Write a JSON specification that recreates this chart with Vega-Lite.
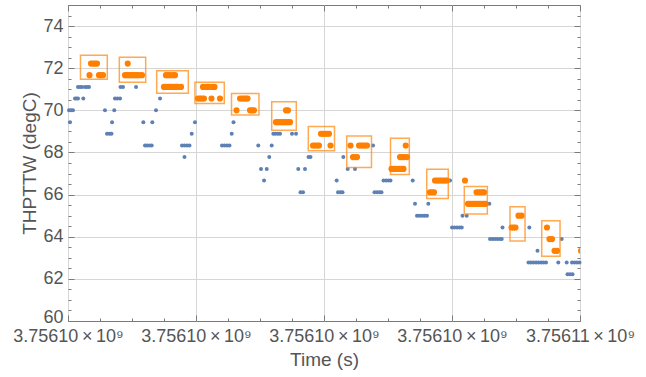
{
  "$schema": "https://vega.github.io/schema/vega-lite/v6.json",
  "width": 512,
  "height": 316,
  "autosize": "none",
  "padding": {"left": 68, "top": 5, "right": 66, "bottom": 56},
  "background": "white",
  "config": {
    "view": {"stroke": "#7a7a7a", "strokeWidth": 1},
    "font": "Liberation Sans"
  },
  "datasets": {
    "blue": [
      {"t":3756098016,"v":70.00},{"t":3756098047,"v":70.00},{"t":3756098078,"v":70.00},{"t":3756098031,"v":69.44},
      {"t":3756098109,"v":70.56},{"t":3756098133,"v":70.56},{"t":3756098156,"v":70.56},{"t":3756098239,"v":70.56},
      {"t":3756098156,"v":71.11},{"t":3756098188,"v":71.11},{"t":3756098219,"v":71.11},{"t":3756098266,"v":71.11},{"t":3756098297,"v":71.11},{"t":3756098328,"v":71.11},
      {"t":3756098578,"v":70.00},{"t":3756098609,"v":68.89},{"t":3756098648,"v":68.89},{"t":3756098680,"v":68.89},{"t":3756098688,"v":69.44},
      {"t":3756098723,"v":70.00},{"t":3756098734,"v":70.56},{"t":3756098773,"v":70.56},{"t":3756098813,"v":70.56},{"t":3756098820,"v":71.11},{"t":3756098859,"v":71.11},{"t":3756099063,"v":71.11},
      {"t":3756099177,"v":69.44},{"t":3756099203,"v":68.33},{"t":3756099234,"v":68.33},{"t":3756099273,"v":68.33},{"t":3756099308,"v":68.33},{"t":3756099317,"v":69.44},{"t":3756099375,"v":70.00},{"t":3756099438,"v":70.56},
      {"t":3756099781,"v":68.33},{"t":3756099820,"v":68.33},{"t":3756099859,"v":68.33},{"t":3756099898,"v":68.33},{"t":3756099820,"v":67.78},{"t":3756099933,"v":68.89},{"t":3756099984,"v":69.44},
      {"t":3756100406,"v":68.33},{"t":3756100445,"v":68.33},{"t":3756100484,"v":68.33},{"t":3756100523,"v":68.33},{"t":3756100558,"v":68.89},{"t":3756100586,"v":69.44},
      {"t":3756100973,"v":68.33},{"t":3756101016,"v":67.22},{"t":3756101105,"v":67.22},{"t":3756101063,"v":66.67},{"t":3756101145,"v":67.78},{"t":3756101183,"v":68.33},
      {"t":3756101208,"v":68.89},{"t":3756101242,"v":68.89},{"t":3756101281,"v":68.89},{"t":3756101313,"v":68.89},{"t":3756101500,"v":68.89},{"t":3756101563,"v":68.89},
      {"t":3756101598,"v":67.22},{"t":3756101703,"v":67.22},{"t":3756101633,"v":66.11},{"t":3756101672,"v":66.11},{"t":3756101758,"v":67.78},{"t":3756101789,"v":67.78},
      {"t":3756102198,"v":66.67},{"t":3756102219,"v":66.11},{"t":3756102258,"v":66.11},{"t":3756102289,"v":66.11},{"t":3756102302,"v":67.78},{"t":3756102370,"v":67.22},{"t":3756102484,"v":67.22},
      {"t":3756102766,"v":68.33},{"t":3756102789,"v":66.11},{"t":3756102828,"v":66.11},{"t":3756102867,"v":66.11},{"t":3756102898,"v":66.11},
      {"t":3756102930,"v":66.67},{"t":3756102969,"v":66.67},{"t":3756103008,"v":66.67},{"t":3756103039,"v":66.67},
      {"t":3756103386,"v":66.67},{"t":3756103422,"v":65.56},{"t":3756103630,"v":65.56},{"t":3756103453,"v":65.00},{"t":3756103492,"v":65.00},{"t":3756103531,"v":65.00},{"t":3756103570,"v":65.00},{"t":3756103609,"v":65.00},
      {"t":3756103969,"v":66.67},{"t":3756104000,"v":64.44},{"t":3756104039,"v":64.44},{"t":3756104078,"v":64.44},{"t":3756104117,"v":64.44},{"t":3756104152,"v":64.44},{"t":3756104164,"v":65.00},{"t":3756104230,"v":65.00},
      {"t":3756104583,"v":65.56},{"t":3756104594,"v":63.89},{"t":3756104633,"v":63.89},{"t":3756104672,"v":63.89},{"t":3756104711,"v":63.89},{"t":3756104750,"v":63.89},{"t":3756104777,"v":63.89},{"t":3756104789,"v":64.44},
      {"t":3756105208,"v":64.44},{"t":3756105336,"v":63.33},{"t":3756105195,"v":62.78},{"t":3756105234,"v":62.78},{"t":3756105273,"v":62.78},{"t":3756105313,"v":62.78},{"t":3756105352,"v":62.78},{"t":3756105391,"v":62.78},{"t":3756105430,"v":62.78},{"t":3756105469,"v":62.78},
      {"t":3756105714,"v":63.89},{"t":3756105661,"v":62.78},{"t":3756105792,"v":62.78},{"t":3756105875,"v":62.78},{"t":3756105914,"v":62.78},{"t":3756105953,"v":62.78},{"t":3756105992,"v":62.78},
      {"t":3756105805,"v":62.22},{"t":3756105844,"v":62.22},{"t":3756105883,"v":62.22}
    ],
    "orange": [
      {"t":3756098359,"v":72.22},{"t":3756098391,"v":72.22},{"t":3756098422,"v":72.22},{"t":3756098453,"v":72.22},
      {"t":3756098336,"v":71.67},{"t":3756098484,"v":71.67},{"t":3756098516,"v":71.67},{"t":3756098547,"v":71.67},
      {"t":3756098933,"v":72.22},
      {"t":3756098891,"v":71.67},{"t":3756098922,"v":71.67},{"t":3756098953,"v":71.67},{"t":3756098984,"v":71.67},{"t":3756099016,"v":71.67},{"t":3756099047,"v":71.67},{"t":3756099078,"v":71.67},{"t":3756099109,"v":71.67},{"t":3756099156,"v":71.67},
      {"t":3756099531,"v":71.67},{"t":3756099563,"v":71.67},{"t":3756099594,"v":71.67},{"t":3756099641,"v":71.67},{"t":3756099672,"v":71.67},
      {"t":3756099500,"v":71.11},{"t":3756099531,"v":71.11},{"t":3756099563,"v":71.11},{"t":3756099594,"v":71.11},{"t":3756099625,"v":71.11},{"t":3756099656,"v":71.11},{"t":3756099688,"v":71.11},{"t":3756099719,"v":71.11},{"t":3756099766,"v":71.11},
      {"t":3756100109,"v":71.11},{"t":3756100141,"v":71.11},{"t":3756100172,"v":71.11},{"t":3756100203,"v":71.11},{"t":3756100250,"v":71.11},{"t":3756100289,"v":71.11},
      {"t":3756100031,"v":70.56},{"t":3756100063,"v":70.56},{"t":3756100094,"v":70.56},{"t":3756100125,"v":70.56},{"t":3756100242,"v":70.56},{"t":3756100375,"v":70.56},
      {"t":3756100688,"v":70.56},{"t":3756100719,"v":70.56},{"t":3756100750,"v":70.56},{"t":3756100781,"v":70.56},{"t":3756100805,"v":70.56},
      {"t":3756100633,"v":70.00},{"t":3756100844,"v":70.00},{"t":3756100875,"v":70.00},{"t":3756100906,"v":70.00},
      {"t":3756101406,"v":70.00},{"t":3756101438,"v":70.00},
      {"t":3756101250,"v":69.44},{"t":3756101281,"v":69.44},{"t":3756101313,"v":69.44},{"t":3756101344,"v":69.44},{"t":3756101375,"v":69.44},{"t":3756101406,"v":69.44},{"t":3756101438,"v":69.44},{"t":3756101469,"v":69.44},
      {"t":3756101953,"v":68.89},{"t":3756101984,"v":68.89},{"t":3756102016,"v":68.89},{"t":3756102047,"v":68.89},{"t":3756102078,"v":68.89},
      {"t":3756101828,"v":68.33},{"t":3756101859,"v":68.33},{"t":3756101891,"v":68.33},{"t":3756101922,"v":68.33},{"t":3756102102,"v":68.33},
      {"t":3756102414,"v":68.33},{"t":3756102547,"v":68.33},{"t":3756102578,"v":68.33},{"t":3756102609,"v":68.33},{"t":3756102641,"v":68.33},{"t":3756102672,"v":68.33},
      {"t":3756102453,"v":67.78},{"t":3756102484,"v":67.78},{"t":3756102516,"v":67.78},
      {"t":3756103277,"v":68.33},
      {"t":3756103188,"v":67.78},{"t":3756103219,"v":67.78},{"t":3756103250,"v":67.78},{"t":3756103297,"v":67.78},
      {"t":3756103055,"v":67.22},{"t":3756103086,"v":67.22},{"t":3756103117,"v":67.22},{"t":3756103148,"v":67.22},{"t":3756103180,"v":67.22},{"t":3756103211,"v":67.22},{"t":3756103242,"v":67.22},
      {"t":3756103734,"v":66.67},{"t":3756103766,"v":66.67},{"t":3756103797,"v":66.67},{"t":3756103828,"v":66.67},{"t":3756103859,"v":66.67},{"t":3756103891,"v":66.67},{"t":3756103922,"v":66.67},
      {"t":3756103656,"v":66.11},{"t":3756103688,"v":66.11},{"t":3756103719,"v":66.11},
      {"t":3756104203,"v":66.67},
      {"t":3756104383,"v":66.11},{"t":3756104414,"v":66.11},{"t":3756104445,"v":66.11},{"t":3756104477,"v":66.11},{"t":3756104500,"v":66.11},
      {"t":3756104250,"v":65.56},{"t":3756104281,"v":65.56},{"t":3756104313,"v":65.56},{"t":3756104344,"v":65.56},{"t":3756104375,"v":65.56},{"t":3756104406,"v":65.56},{"t":3756104438,"v":65.56},{"t":3756104469,"v":65.56},{"t":3756104500,"v":65.56},{"t":3756104523,"v":65.56},
      {"t":3756105039,"v":65.00},{"t":3756105086,"v":65.00},
      {"t":3756104930,"v":64.44},{"t":3756104961,"v":64.44},{"t":3756104992,"v":64.44},
      {"t":3756105484,"v":64.44},
      {"t":3756105523,"v":63.89},{"t":3756105563,"v":63.89},
      {"t":3756105602,"v":63.33},{"t":3756105641,"v":63.33},
      {"t":3756106016,"v":63.33}
    ],
    "boxes": [
      {"t0":3756098195,"t1":3756098614,"v0":71.47,"v1":72.62},
      {"t0":3756098802,"t1":3756099214,"v0":71.33,"v1":72.52},
      {"t0":3756099386,"t1":3756099880,"v0":70.81,"v1":71.88},
      {"t0":3756099984,"t1":3756100442,"v0":70.33,"v1":71.33},
      {"t0":3756100555,"t1":3756100984,"v0":69.78,"v1":70.80},
      {"t0":3756101183,"t1":3756101567,"v0":69.06,"v1":70.41},
      {"t0":3756101755,"t1":3756102164,"v0":68.08,"v1":69.23},
      {"t0":3756102355,"t1":3756102742,"v0":67.29,"v1":68.78},
      {"t0":3756103039,"t1":3756103333,"v0":66.96,"v1":68.67},
      {"t0":3756103605,"t1":3756103942,"v0":65.82,"v1":67.20},
      {"t0":3756104192,"t1":3756104552,"v0":65.08,"v1":66.38},
      {"t0":3756104906,"t1":3756105141,"v0":63.80,"v1":65.42},
      {"t0":3756105402,"t1":3756105688,"v0":63.07,"v1":64.76}
    ]
  },
  "resolve": {"axis": {"x": "independent", "y": "independent"}},
  "layer": [
    {
      "data": {"name": "blue"},
      "mark": {"type": "point", "filled": true, "shape": "circle", "size": 16, "color": "#5E81B5", "opacity": 1},
      "encoding": {
        "x": {"field": "t", "type": "quantitative",
          "scale": {"domain": [3756098000, 3756106000], "nice": false, "zero": false},
          "axis": {"orient": "bottom", "title": "Time (s)",
            "values": [3756098000,3756098500,3756099000,3756099500,3756100000,3756100500,3756101000,3756101500,3756102000,3756102500,3756103000,3756103500,3756104000,3756104500,3756105000,3756105500,3756106000],
            "labelExpr": "datum.value % 2000 === 0 ? format(datum.value / 1e9, '.5f') + '\u2009×\u200910⁹' : ''",
            "ticks": false, "domain": false, "grid": true, "gridColor": "#d6d6d6", "gridWidth": 1,
            "gridOpacity": {"condition": {"test": "datum.value % 2000 === 0", "value": 1}, "value": 0},
            "labelFlush": false, "labelOverlap": false, "labelBound": false, "labelPadding": 6,
            "labelFont": "Liberation Sans", "labelFontSize": 18, "labelColor": "#555555",
            "titleFont": "Liberation Sans", "titleFontSize": 19, "titleFontWeight": "normal", "titleColor": "#555555", "titlePadding": 5}},
        "y": {"field": "v", "type": "quantitative",
          "scale": {"domain": [60, 75], "nice": false, "zero": false},
          "axis": {"orient": "left", "title": "THPTTW (degC)",
            "values": [60,60.5,61,61.5,62,62.5,63,63.5,64,64.5,65,65.5,66,66.5,67,67.5,68,68.5,69,69.5,70,70.5,71,71.5,72,72.5,73,73.5,74,74.5,75],
            "labelExpr": "datum.value % 2 === 0 && datum.value < 75 ? format(datum.value, 'd') : ''",
            "ticks": false, "domain": false, "grid": true, "gridColor": "#d6d6d6", "gridWidth": 1,
            "gridOpacity": {"condition": {"test": "datum.value % 2 === 0 && datum.value > 60", "value": 1}, "value": 0},
            "labelBaseline": {"condition": {"test": "datum.value === 60", "value": "bottom"}, "value": "middle"},
            "labelOffset": {"condition": {"test": "datum.value === 60", "value": 5}, "value": 0},
            "labelOverlap": false, "labelBound": false, "labelFlush": false, "labelPadding": 5,
            "labelFont": "Liberation Sans", "labelFontSize": 18, "labelColor": "#555555",
            "titleFont": "Liberation Sans", "titleFontSize": 19, "titleFontWeight": "normal", "titleColor": "#555555", "titlePadding": 3}}
      }
    },
    {
      "data": {"name": "boxes"},
      "mark": {"type": "rect", "fill": null, "fillOpacity": 0, "stroke": "#FF8C1A", "strokeOpacity": 0.75, "strokeWidth": 1.5},
      "encoding": {
        "x": {"field": "t0", "type": "quantitative",
          "axis": {"orient": "top", "title": null, "labels": false, "grid": false, "domain": false,
            "values": [3756098000,3756098500,3756099000,3756099500,3756100000,3756100500,3756101000,3756101500,3756102000,3756102500,3756103000,3756103500,3756104000,3756104500,3756105000,3756105500,3756106000],
            "ticks": true, "tickColor": "#7a7a7a", "tickWidth": 1,
            "tickSize": {"condition": {"test": "datum.value % 2000 === 0", "value": -6}, "value": -3}}},
        "x2": {"field": "t1"},
        "y": {"field": "v0", "type": "quantitative",
          "axis": {"orient": "right", "title": null, "labels": false, "grid": false, "domain": false,
            "values": [60,60.5,61,61.5,62,62.5,63,63.5,64,64.5,65,65.5,66,66.5,67,67.5,68,68.5,69,69.5,70,70.5,71,71.5,72,72.5,73,73.5,74,74.5,75],
            "ticks": true, "tickColor": "#7a7a7a", "tickWidth": 1,
            "tickSize": {"condition": {"test": "datum.value % 2 === 0", "value": -6}, "value": -3}}},
        "y2": {"field": "v1"}
      }
    },
    {
      "data": {"name": "orange"},
      "mark": {"type": "point", "filled": true, "shape": "circle", "size": 38, "color": "#FF8000", "opacity": 1, "clip": true},
      "encoding": {
        "x": {"field": "t", "type": "quantitative",
          "axis": {"orient": "bottom", "title": null, "labels": false, "grid": false, "domain": false,
            "values": [3756098000,3756098500,3756099000,3756099500,3756100000,3756100500,3756101000,3756101500,3756102000,3756102500,3756103000,3756103500,3756104000,3756104500,3756105000,3756105500,3756106000],
            "ticks": true, "tickColor": "#7a7a7a", "tickWidth": 1,
            "tickSize": {"condition": {"test": "datum.value % 2000 === 0", "value": -6}, "value": -3}}},
        "y": {"field": "v", "type": "quantitative",
          "axis": {"orient": "left", "title": null, "labels": false, "grid": false, "domain": false,
            "values": [60,60.5,61,61.5,62,62.5,63,63.5,64,64.5,65,65.5,66,66.5,67,67.5,68,68.5,69,69.5,70,70.5,71,71.5,72,72.5,73,73.5,74,74.5,75],
            "ticks": true, "tickColor": "#7a7a7a", "tickWidth": 1,
            "tickSize": {"condition": {"test": "datum.value % 2 === 0", "value": -6}, "value": -3}}}
      }
    }
  ]
}
